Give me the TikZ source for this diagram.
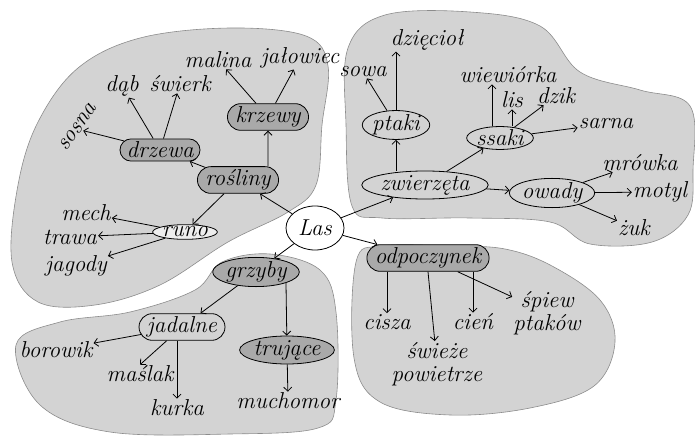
\documentclass[tikz,border=0pt]{standalone}
\usepackage{fontspec}
\usetikzlibrary{shapes.geometric,shapes.misc,arrows.meta}
\usepackage{xcolor}
\definecolor{blobfill}{HTML}{D3D3D3}
\definecolor{blobline}{HTML}{8C8C8C}
\definecolor{ovaldark}{HTML}{A9A9A9}

\begin{document}
\begin{tikzpicture}[
  x=1pt, y=-1pt,
  every node/.style={font=\fontsize{23}{23}\selectfont\itshape},
  blob/.style={draw=blobline, fill=blobfill, line width=0.6pt},
  topic/.style={draw, ellipse, thick, fill=blobfill, inner sep=0pt},
  topicdark/.style={topic, fill=ovaldark},
  pill/.style={draw, rounded rectangle, thick, fill=ovaldark, inner sep=3pt},
  root/.style={topic, fill=white, minimum width=58pt, minimum height=44pt},
  leaf/.style={inner sep=1pt, align=center},
  arr/.style={-{Straight Barb[length=4pt,width=8pt]}, thick}
]
\useasboundingbox (0,0) rectangle (695,438);

% gray areas
\draw[blob] plot[smooth cycle, tension=0.6] coordinates {(12,262) (18,185) (38,122) (78,68) (140,38) (230,28) (306,36) (328,66) (322,125) (316,185) (288,212) (228,242) (160,285) (95,305) (38,302)};
\draw[blob] plot[smooth cycle, tension=0.6] coordinates {(348,48) (385,15) (470,12) (540,26) (580,72) (640,90) (690,106) (693,170) (688,215) (652,242) (590,244) (550,222) (470,218) (382,218) (352,206) (346,125)};
\draw[blob] plot[smooth cycle, tension=0.6] coordinates {(16,345) (60,322) (130,312) (195,290) (222,262) (270,254) (320,270) (336,312) (336,400) (318,428) (230,434) (110,432) (40,405)};
\draw[blob] plot[smooth cycle, tension=0.6] coordinates {(356,262) (382,246) (450,246) (505,249) (552,266) (600,300) (615,342) (594,386) (530,408) (450,415) (380,402) (354,358)};

% main topics
\node[root] (las) at (315,228) {Las};
\node[pill] (rosliny) at (238,180) {rośliny};
\node[topic] (zwierzeta) at (425,185) {zwierzęta};
\node[topicdark] (grzyby) at (256,272) {grzyby};
\node[pill] (odpoczynek) at (428,258) {odpoczynek};

% sub topics
\node[pill] (drzewa) at (160,150) {drzewa};
\node[pill] (krzewy) at (268,117) {krzewy};
\node[topic, fill=white!60!blobfill] (runo) at (185,232) {runo};
\node[pill, fill=blobfill] (jadalne) at (182,327) {jadalne};
\node[topicdark] (trujace) at (287,350) {trujące};
\node[topic] (ptaki) at (396,125) {ptaki};
\node[topic] (ssaki) at (500,138) {ssaki};
\node[topic] (owady) at (552,193) {owady};

% leaves
\node[leaf, rotate=55] (sosna) at (78,127) {sosna};
\node[leaf] (dab) at (122,86) {dąb};
\node[leaf] (swierk) at (180,84) {świerk};
\node[leaf] (malina) at (218,60) {malina};
\node[leaf] (jalowiec) at (300,58) {jałowiec};
\node[leaf] (mech) at (86,213) {mech};
\node[leaf] (trawa) at (70,237) {trawa};
\node[leaf] (jagody) at (76,266) {jagody};
\node[leaf] (borowik) at (56,350) {borowik};
\node[leaf] (maslak) at (140,374) {maślak};
\node[leaf] (kurka) at (177,408) {kurka};
\node[leaf] (muchomor) at (288,401) {muchomor};
\node[leaf] (sowa) at (363,72) {sowa};
\node[leaf] (dzieciol) at (427,40) {dzięcioł};
\node[leaf] (wiewiorka) at (508,75) {wiewiórka};
\node[leaf] (lis) at (512,100) {lis};
\node[leaf] (dzik) at (556,96) {dzik};
\node[leaf] (sarna) at (606,124) {sarna};
\node[leaf] (mrowka) at (640,163) {mrówka};
\node[leaf] (motyl) at (660,192) {motyl};
\node[leaf] (zuk) at (634,228) {żuk};
\node[leaf] (cisza) at (387,322) {cisza};
\node[leaf] (swieze) at (437,364) {świeże\\powietrze};
\node[leaf] (cien) at (473,322) {cień};
\node[leaf] (spiew) at (547,313) {śpiew\\ptaków};

% connectors
\draw[arr] (las) -- (rosliny);
\draw[arr] (las) -- (zwierzeta);
\draw[arr] (las) -- (grzyby);
\draw[arr] (las) -- (odpoczynek);

\draw[arr] (rosliny) -- (drzewa);
\draw[arr] (krzewy |- rosliny.north) -- (krzewy);
\draw[arr] (rosliny) -- (runo);
\draw[arr] (drzewa) -- (sosna.south);
\draw[arr] (drzewa) -- (dab);
\draw[arr] (drzewa) -- (swierk);
\draw[arr] (krzewy) -- (malina);
\draw[arr] (krzewy) -- (jalowiec);
\draw[arr] (runo) -- (mech);
\draw[arr] (runo) -- (trawa);
\draw[arr] (runo) -- (jagody);

\draw[arr] (grzyby) -- (jadalne);
\draw[arr] (grzyby.-20) -- (trujace);
\draw[arr] (jadalne) -- (borowik);
\draw[arr] (jadalne) -- (maslak.north);
\draw[arr] (jadalne.south -| kurka) -- (kurka);
\draw[arr] (trujace) -- (muchomor);

\draw[arr] (ptaki |- zwierzeta.north) -- (ptaki);
\draw[arr] (zwierzeta) -- (ssaki);
\draw[arr] (zwierzeta) -- (owady);
\draw[arr] (ptaki) -- (sowa);
\draw[arr] (ptaki.north) -- (ptaki.north |- dzieciol.south);
\draw[arr] (ssaki.125) -- (ssaki.125 |- wiewiorka.south);
\draw[arr] (ssaki.north -| lis) -- (lis);
\draw[arr] (ssaki) -- (dzik);
\draw[arr] (ssaki) -- (sarna);
\draw[arr] (owady) -- (mrowka);
\draw[arr] (owady) -- (motyl);
\draw[arr] (owady) -- (zuk);

\draw[arr] (odpoczynek.south -| cisza) -- (cisza);
\draw[arr] (odpoczynek.south) -- (swieze);
\draw[arr] (odpoczynek.south -| cien) -- (cien);
\draw[arr] (odpoczynek) -- (spiew);
\end{tikzpicture}
\end{document}
